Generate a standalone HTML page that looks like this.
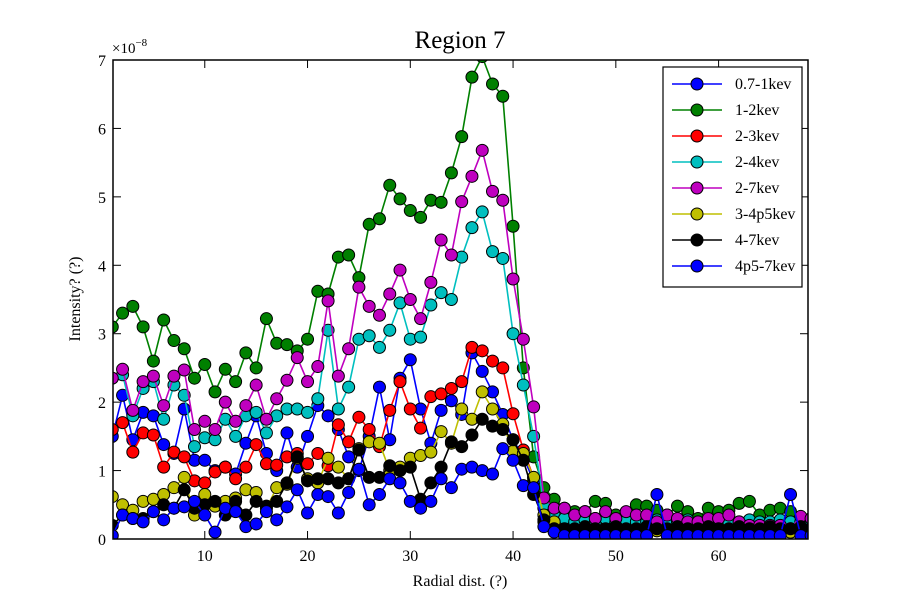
<!DOCTYPE html>
<html><head><meta charset="utf-8"><style>
body{margin:0;background:#fff;}
svg text{font-family:"Liberation Serif",serif;}
</style></head><body>
<svg id="chart" width="900" height="600" xmlns="http://www.w3.org/2000/svg">
<rect width="900" height="600" fill="#fff"/>
<text x="460" y="48" font-size="25" text-anchor="middle">Region 7</text>
<text x="112" y="53" font-size="15">×10<tspan dy="-7" font-size="11">−8</tspan></text>
<text x="460" y="586" font-size="16" text-anchor="middle">Radial dist. (?)</text>
<text x="80" y="299" font-size="16" text-anchor="middle" transform="rotate(-90 80 299)">Intensity? (?)</text>
<g id="ticks"></g>
<g id="series"></g>
<rect x="113" y="60" width="695" height="479" fill="none" stroke="#000" stroke-width="1.5"/>
<g id="legend"></g>
</svg>
<script>
const xValues = Array.from({length:69},(_, i)=>i+1);
const seriesNames = ["0.7-1kev","1-2kev","2-3kev","2-4kev","2-7kev","3-4p5kev","4-7kev","4p5-7kev"];
const seriesColors = ["#0000ff","#008000","#ff0000","#00bfbf","#bf00bf","#bfbf00","#000000","#0000ff"];
const s07_1 = [1.5,2.1,1.45,1.85,1.8,1.38,1.25,1.9,1.15,1.15,1.0,1.05,0.95,1.4,1.8,1.25,1.0,1.55,1.05,1.5,1.95,1.8,1.6,1.2,1.0,1.5,2.22,1.45,2.35,2.62,1.9,1.4,1.88,2.02,1.82,2.72,2.45,2.15,1.82,1.45,1.2,0.85,0.25,0.12,0.1,0.1,0.12,0.1,0.15,0.1,0.12,0.1,0.1,0.12,0.1,0.1,0.12,0.1,0.1,0.12,0.1,0.1,0.12,0.1,0.1,0.12,0.1,0.1,0.1];
const s1_2 = [3.1,3.3,3.4,3.1,2.6,3.2,2.9,2.78,2.35,2.55,2.15,2.48,2.3,2.72,2.5,3.22,2.86,2.84,2.75,2.92,3.62,3.58,4.12,4.15,3.82,4.6,4.68,5.17,4.97,4.8,4.7,4.95,4.92,5.35,5.88,6.75,7.05,6.65,6.47,4.57,2.5,1.2,0.75,0.58,0.45,0.4,0.4,0.55,0.52,0.35,0.35,0.5,0.48,0.42,0.35,0.48,0.4,0.3,0.45,0.4,0.42,0.52,0.55,0.35,0.42,0.45,0.4,0.32,0.3];
const s2_3 = [1.6,1.7,1.27,1.55,1.52,1.05,1.27,1.2,0.85,0.82,0.98,1.05,0.88,1.05,1.38,1.1,1.08,1.2,1.25,1.1,1.25,1.07,1.67,1.42,1.78,1.6,1.35,1.88,2.3,1.9,1.62,2.08,2.12,2.2,2.3,2.8,2.75,2.6,2.5,1.83,1.3,0.9,0.45,0.3,0.3,0.25,0.3,0.3,0.2,0.25,0.2,0.22,0.2,0.2,0.22,0.2,0.2,0.22,0.2,0.2,0.22,0.2,0.2,0.22,0.2,0.2,0.22,0.2,0.2];
const s2_4 = [2.35,2.4,1.8,2.2,2.3,1.75,2.25,2.1,1.35,1.48,1.45,1.75,1.5,1.8,1.85,1.55,1.8,1.9,1.9,1.85,2.05,3.05,1.9,2.22,2.92,2.97,2.8,3.05,3.45,2.92,2.95,3.42,3.6,3.5,4.12,4.55,4.78,4.2,4.1,3.0,2.25,1.5,0.5,0.35,0.3,0.25,0.28,0.25,0.3,0.25,0.28,0.25,0.25,0.28,0.25,0.25,0.28,0.25,0.25,0.28,0.25,0.25,0.28,0.25,0.25,0.28,0.25,0.25,0.25];
const s2_7 = [2.35,2.48,1.88,2.3,2.38,1.95,2.38,2.47,1.6,1.72,1.6,2.0,1.72,1.95,2.25,1.75,2.05,2.32,2.65,2.3,2.52,3.48,2.38,2.78,3.68,3.4,3.27,3.58,3.93,3.5,3.22,3.75,4.37,4.15,4.93,5.3,5.68,5.08,4.95,3.8,2.92,1.93,0.6,0.45,0.45,0.35,0.4,0.3,0.4,0.3,0.4,0.35,0.35,0.25,0.35,0.3,0.25,0.25,0.3,0.3,0.35,0.25,0.2,0.2,0.2,0.2,0.15,0.33,0.3];
const s3_45 = [0.62,0.5,0.42,0.55,0.58,0.65,0.75,0.9,0.35,0.65,0.48,0.55,0.6,0.72,0.68,0.45,0.75,0.8,1.18,0.88,0.82,1.18,1.05,0.88,1.32,1.42,1.4,1.0,1.05,1.18,1.22,1.27,1.57,1.4,1.9,1.75,2.15,1.9,1.68,1.28,1.25,0.9,0.35,0.25,0.12,0.1,0.1,0.12,0.1,0.1,0.12,0.1,0.1,0.12,0.1,0.1,0.12,0.1,0.1,0.12,0.1,0.05,0.12,0.1,0.1,0.12,0.1,0.1,0.1];
const s4_7 = [0.2,0.35,0.3,0.3,0.4,0.5,0.45,0.72,0.45,0.5,0.55,0.35,0.55,0.35,0.55,0.48,0.55,0.82,1.2,0.85,0.88,0.88,0.82,0.88,1.3,0.9,0.9,1.07,1.0,1.05,0.58,0.82,1.05,1.42,1.35,1.52,1.75,1.65,1.6,1.45,1.15,0.65,0.28,0.15,0.15,0.15,0.18,0.15,0.15,0.18,0.15,0.15,0.18,0.15,0.15,0.18,0.15,0.15,0.18,0.15,0.15,0.18,0.15,0.15,0.18,0.15,0.15,0.18,0.15];
const s45_7 = [0.05,0.35,0.3,0.25,0.4,0.28,0.45,0.47,0.55,0.35,0.1,0.45,0.4,0.18,0.22,0.4,0.28,0.47,0.72,0.38,0.65,0.62,0.38,0.68,1.02,0.5,0.65,0.88,0.82,0.55,0.45,0.55,0.88,0.75,1.02,1.05,1.0,0.95,1.32,1.15,0.78,0.75,0.18,0.1,0.05,0.05,0.05,0.05,0.05,0.05,0.05,0.05,0.05,0.65,0.05,0.05,0.05,0.05,0.05,0.05,0.05,0.05,0.05,0.05,0.05,0.05,0.65,0.05,0.05];
const allSeries = [s07_1,s1_2,s2_3,s2_4,s2_7,s3_45,s4_7,s45_7];
const xTicks = [10,20,30,40,50,60];
const yTicks = [0,1,2,3,4,5,6,7];

const NS = "http://www.w3.org/2000/svg";
const X0=113, X1=808, Y0=539, Y1=60, XMIN=1.07, XMAX=68.7, YMIN=0, YMAX=7;
const sx = v => X0 + (v-XMIN)/(XMAX-XMIN)*(X1-X0);
const sy = v => Y0 - (v-YMIN)/(YMAX-YMIN)*(Y0-Y1);
function mk(tag, attrs, parent){const e=document.createElementNS(NS,tag);for(const k in attrs)e.setAttribute(k,attrs[k]);parent.appendChild(e);return e;}

const tg = document.getElementById('ticks');
xTicks.forEach(t=>{
  const x=sx(t);
  const a=mk('line',{x1:x,y1:Y0,x2:x,y2:Y0-8,stroke:'#000'},tg);
  
  
  const b=mk('line',{x1:x,y1:Y1,x2:x,y2:Y1+8,stroke:'#000'},tg);
  
  
  const l=mk('text',{x:x,y:Y0+22,'font-size':16,'text-anchor':'middle'},tg);
  l.textContent=t;
  
  
});
yTicks.forEach(t=>{
  const y=sy(t);
  const a=mk('line',{x1:X0,y1:y,x2:X0+8,y2:y,stroke:'#000'},tg);
  
  
  const b=mk('line',{x1:X1,y1:y,x2:X1-8,y2:y,stroke:'#000'},tg);
  
  
  const l=mk('text',{x:X0-7,y:y+6,'font-size':16,'text-anchor':'end'},tg);
  l.textContent=t;
  
  
});

const sg = document.getElementById('series');
const cp = mk('clipPath',{id:'clip'},sg);
mk('rect',{x:X0,y:Y1,width:X1-X0,height:Y0-Y1},cp);
allSeries.forEach((vals,si)=>{
  const g=mk('g',{'clip-path':'url(#clip)'},sg);
  
  
  const pts=vals.map((v,i)=>sx(xValues[i]).toFixed(1)+','+sy(v).toFixed(1)).join(' ');
  const pl=mk('polyline',{points:pts,fill:'none',stroke:seriesColors[si],'stroke-width':1.6},g);
  
  
  vals.forEach((v,i)=>{
    const c=mk('circle',{cx:sx(xValues[i]),cy:sy(v),r:6,fill:seriesColors[si],stroke:'#000','stroke-width':1},g);
    
    
  });
});

const lg=document.getElementById('legend');
const box=mk('rect',{x:663,y:67,width:139,height:220,fill:'#fff',stroke:'#000','stroke-width':1.2},lg);


seriesNames.forEach((n,i)=>{
  const y=84+i*26;
  const g=mk('g',{},lg);
  
  
  mk('line',{x1:672,y1:y,x2:722,y2:y,stroke:seriesColors[i],'stroke-width':1.6},g);
  mk('circle',{cx:697,cy:y,r:6,fill:seriesColors[i],stroke:'#000','stroke-width':1},g);
  const t=mk('text',{x:735,y:y+5,'font-size':16},g);
  t.textContent=n;
});
</script>
</body></html>
